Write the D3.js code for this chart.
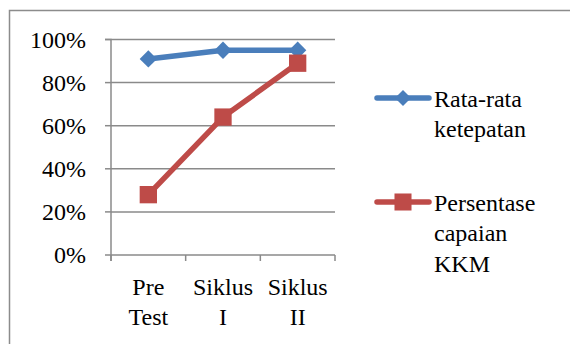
<!DOCTYPE html>
<html><head><meta charset="utf-8">
<script src="https://cdn.jsdelivr.net/npm/d3@7"></script>
<style>html,body{margin:0;padding:0;background:#fff;}
svg text, svg tspan{font-family:"Liberation Serif" !important;font-size:24px;}</style>
</head><body>
<svg id="c" width="570" height="344" font-family="Liberation Serif"></svg>
<script>
const categories = [["Pre","Test"],["Siklus","I"],["Siklus","II"]];
const seriesNames = [["Rata-rata","ketepatan"],["Persentase","capaian","KKM"]];
const rataRata = [0.91, 0.95, 0.95];
const persentase = [0.28, 0.64, 0.89];
const yTicks = [0, 0.2, 0.4, 0.6, 0.8, 1.0];

const colors = ["#4a7ebb", "#be4b48"];
const svg = d3.select("#c");

svg.append("rect").attr("x",9.5).attr("y",10.5).attr("width",600).attr("height",400)
  .attr("fill","none").attr("stroke","#8c8c8c").attr("stroke-width",1.5);

const L = 111, R = 335, T = 39.5, B = 255;
const x = d3.scaleBand().domain(d3.range(categories.length)).range([L,R]);
const y = d3.scaleLinear().domain([0,1]).range([B,T]);

const grid = "#8a8a8a";
svg.append("g").selectAll("line").data(yTicks.filter(d=>d>0)).join("line")
  .attr("x1",L).attr("x2",R).attr("y1",d=>y(d)).attr("y2",d=>y(d))
  .attr("stroke",grid).attr("stroke-width",1.5);

// y-axis labels drawn as plain text from the scale
const yg = svg.append("g");
yg.append("path").attr("d",`M${L-6},${T}H${L}V${B+6}`).attr("fill","none").attr("stroke",grid).attr("stroke-width",1.5);
yg.selectAll("line").data(yTicks).join("line").attr("x1",L-6).attr("x2",L).attr("y1",d=>y(d)).attr("y2",d=>y(d))
  .attr("stroke",grid).attr("stroke-width",1.5);
yg.selectAll("text").data(yTicks).join("text").attr("x",L-25).attr("y",d=>y(d)+8)
  .attr("text-anchor","end").attr("fill","#000").text(d3.format(".0%"));

const xAxis = svg.append("g").attr("transform",`translate(0,${B})`);
xAxis.append("line").attr("x1",L).attr("x2",R).attr("stroke",grid).attr("stroke-width",1.5);
const bounds = d3.range(categories.length+1).map(i=> i<categories.length ? x(i) : x(categories.length-1)+x.bandwidth());
xAxis.selectAll("line.t").data(bounds).join("line").attr("class","t")
  .attr("x1",d=>d).attr("x2",d=>d).attr("y1",0).attr("y2",6).attr("stroke",grid).attr("stroke-width",1.5);
const xl = xAxis.selectAll("text").data(categories).join("text")
  .attr("x",(d,i)=>x(i)+x.bandwidth()/2).attr("y",40)
  .attr("text-anchor","middle").attr("fill","#000");
xl.selectAll("tspan").data(d=>d).join("tspan")
  .attr("x",function(){return this.parentNode.getAttribute("x");})
  .attr("dy",(d,i)=>i===0?0:30).text(d=>d);

const cx = i => x(i)+x.bandwidth()/2;
const line = d3.line().x((d,i)=>cx(i)).y(d=>y(d));

const diamond = { draw(ctx, size){ const r = Math.sqrt(size/2); ctx.moveTo(0,-r); ctx.lineTo(r,0); ctx.lineTo(0,r); ctx.lineTo(-r,0); ctx.closePath(); } };

function drawSeries(vals, color, shape, size){
  svg.append("path").datum(vals).attr("d",line).attr("fill","none")
    .attr("stroke",color).attr("stroke-width",5.5).attr("stroke-linejoin","round");
  svg.append("g").selectAll("path").data(vals).join("path")
    .attr("transform",(d,i)=>`translate(${cx(i)},${y(d)})`)
    .attr("d", d3.symbol().type(shape).size(size))
    .attr("fill",color);
}
drawSeries(rataRata, colors[0], diamond, 150);
drawSeries(persentase, colors[1], d3.symbolSquare, 300);

const legY = [98, 202];
const legShapes = [diamond, d3.symbolSquare];
const legSizes = [130, 290];
seriesNames.forEach((name,k)=>{
  const g = svg.append("g");
  g.append("line").attr("x1",377).attr("x2",429).attr("y1",legY[k]).attr("y2",legY[k])
    .attr("stroke",colors[k]).attr("stroke-width",5.5).attr("stroke-linecap","round");
  g.append("path").attr("transform",`translate(403,${legY[k]})`)
    .attr("d",d3.symbol().type(legShapes[k]).size(legSizes[k])).attr("fill",colors[k]);
  const t = g.append("text").attr("x",434).attr("y",legY[k]+8.5).attr("fill","#000");
  t.selectAll("tspan").data(name).join("tspan").attr("x",434).attr("dy",(d,i)=>i===0?0:30.5).text(d=>d);
});
</script>
</body></html>
